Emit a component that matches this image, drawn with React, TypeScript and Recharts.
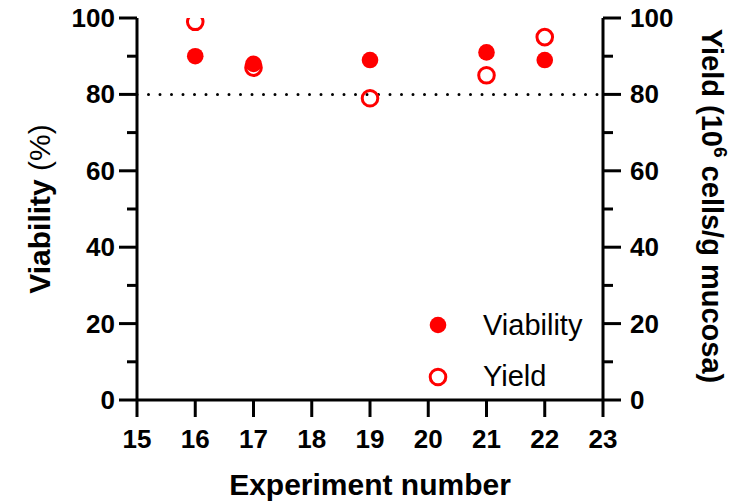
import React from 'react';
import { ScatterChart, Scatter, XAxis, YAxis, ReferenceLine, Legend } from 'recharts';

const experiments = [16, 17, 19, 21, 22];
const viability = [90, 88, 89, 91, 89];
const yieldValues = [99, 87, 79, 85, 95];
const xTicks = [15, 16, 17, 18, 19, 20, 21, 22, 23];
const yTicks = [0, 10, 20, 30, 40, 50, 60, 70, 80, 90, 100];
const thresholdValue = 80;

const viabilityData = experiments.map((x, i) => ({ x, y: viability[i] }));
const yieldData = experiments.map((x, i) => ({ x, y: yieldValues[i] }));

const FONT = '"Liberation Sans", Arial, Helvetica, sans-serif';
const RED = '#FF0000';

const LeftTick = (p: any) => {
  const { x, y, payload } = p;
  const major = payload.value % 20 === 0;
  return (
    <g>
      <line x1={x - (major ? 18 : 10)} x2={x} y1={y} y2={y} stroke="#000" strokeWidth={3} />
      {major && (
        <text x={x - 22} y={y} dy={9} textAnchor="end" fontFamily={FONT} fontWeight="bold" fontSize={26} fill="#000">
          {payload.value}
        </text>
      )}
    </g>
  );
};

const RightTick = (p: any) => {
  const { x, y, payload } = p;
  const major = payload.value % 20 === 0;
  return (
    <g>
      <line x1={x} x2={x + (major ? 18 : 10)} y1={y} y2={y} stroke="#000" strokeWidth={3} />
      {major && (
        <text x={x + 27} y={y} dy={9} textAnchor="start" fontFamily={FONT} fontWeight="bold" fontSize={26} fill="#000">
          {payload.value}
        </text>
      )}
    </g>
  );
};

const BottomTick = (p: any) => {
  const { x, y, payload } = p;
  return (
    <g>
      <line x1={x} x2={x} y1={y} y2={y + 17} stroke="#000" strokeWidth={3} />
      <text x={x} y={y + 48} textAnchor="middle" fontFamily={FONT} fontWeight="bold" fontSize={26} fill="#000">
        {payload.value}
      </text>
    </g>
  );
};

const FilledDot = (p: any) => <circle cx={p.cx} cy={p.cy} r={8.3} fill={RED} />;
const OpenDot = (p: any) => <circle cx={p.cx} cy={p.cy} r={7.8} fill="none" stroke={RED} strokeWidth={3} />;

const LegendContent = (p: any) => {
  const payload = p.payload || [];
  return (
    <svg width={200} height={100} style={{ display: 'block' }}>
      {payload.map((item: any, i: number) => (
        <g key={i}>
          {i === 0 ? (
            <circle cx={18} cy={20 + i * 52} r={8.3} fill={RED} />
          ) : (
            <circle cx={18} cy={20 + i * 52} r={7.8} fill="none" stroke={RED} strokeWidth={3} />
          )}
          <text x={63} y={30 + i * 51} fontFamily={FONT} fontSize={29} fill="#000">
            {item.value}
          </text>
        </g>
      ))}
    </svg>
  );
};

export default function App() {
  return (
    <div style={{ position: 'absolute', left: 0, top: 0, width: 748, height: 502, background: '#fff' }}>
      <ScatterChart width={748} height={502} margin={{ top: 18, right: 0, bottom: 0, left: 0 }}>
        <XAxis
          type="number"
          dataKey="x"
          domain={[15, 23]}
          ticks={xTicks}
          interval={0}
          height={102}
          tickSize={0}
          tickMargin={0}
          tickLine={false}
          allowDataOverflow
          axisLine={{ stroke: '#000', strokeWidth: 3 }}
          tick={(p: any) => <BottomTick {...p} />}
          label={{
            content: (lp: any) => {
              const vb = lp.viewBox || {};
              return (
                <text x={vb.x + vb.width / 2} y={vb.y + 95} textAnchor="middle" fontFamily={FONT} fontWeight="bold" fontSize={30} fill="#000">
                  Experiment number
                </text>
              );
            },
          }}
        />
        <YAxis
          yAxisId="left"
          orientation="left"
          type="number"
          dataKey="y"
          domain={[0, 100]}
          ticks={yTicks}
          interval={0}
          width={137}
          tickSize={0}
          tickMargin={0}
          tickLine={false}
          allowDataOverflow
          axisLine={{ stroke: '#000', strokeWidth: 3 }}
          tick={(p: any) => <LeftTick {...p} />}
          label={{
            content: () => (
              <text x={50} y={209} transform="rotate(-90, 50, 209)" textAnchor="middle" fontFamily={FONT} fontSize={30} fill="#000">
                <tspan fontWeight="bold">Viability</tspan>
                <tspan fontWeight="normal"> (%)</tspan>
              </text>
            ),
          }}
        />
        <YAxis
          yAxisId="right"
          orientation="right"
          type="number"
          dataKey="y"
          domain={[0, 100]}
          ticks={yTicks}
          interval={0}
          width={145}
          tickSize={0}
          tickMargin={0}
          tickLine={false}
          allowDataOverflow
          axisLine={{ stroke: '#000', strokeWidth: 3 }}
          tick={(p: any) => <RightTick {...p} />}
          label={{
            content: () => (
              <text x={702} y={206} transform="rotate(90, 702, 206)" textAnchor="middle" fontFamily={FONT} fontWeight="bold" fontSize={29} fill="#000">
                <tspan>Yield (10</tspan>
                <tspan dy={-12} fontSize={19}>6</tspan>
                <tspan dy={12}> cells/g mucosa)</tspan>
              </text>
            ),
          }}
        />
        <ReferenceLine
          yAxisId="left"
          y={thresholdValue}
          stroke="#000"
          strokeWidth={3}
          strokeDasharray="0 11.5"
          strokeLinecap="round"
        />
        <Scatter name="Viability" data={viabilityData} yAxisId="left" fill={RED} shape={FilledDot} isAnimationActive={false} />
        <Scatter name="Yield" data={yieldData} yAxisId="right" fill={RED} shape={OpenDot} isAnimationActive={false} />
        <Legend
          layout="vertical"
          align="center"
          verticalAlign="middle"
          content={(p: any) => <LegendContent {...p} />}
          wrapperStyle={{ left: 420, top: 305, width: 200, height: 100 }}
        />
      </ScatterChart>
    </div>
  );
}
